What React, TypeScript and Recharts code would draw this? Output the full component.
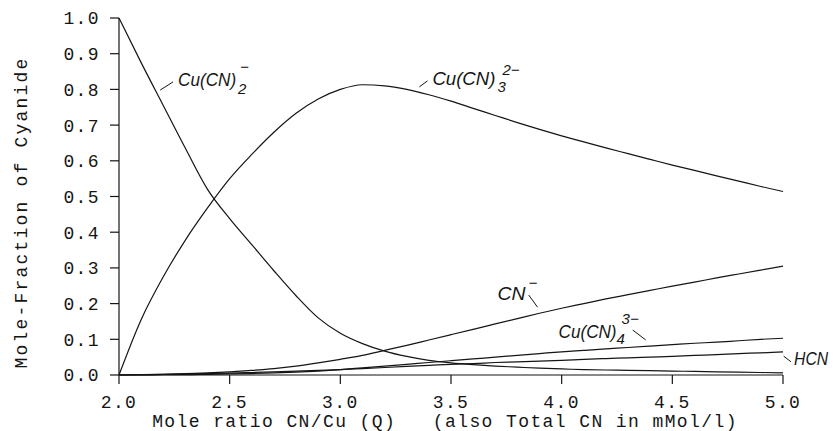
import {
  LineChart,
  Line,
  XAxis,
  YAxis,
  ReferenceLine,
  ReferenceDot,
} from 'recharts'

// mole ratio CN/Cu
const q = [
  2.0, 2.1, 2.2, 2.3, 2.4, 2.5, 2.6, 2.7, 2.8, 2.9, 3.0, 3.1, 3.2, 3.3, 3.4, 3.5,
  3.6, 3.7, 3.8, 3.9, 4.0, 4.1, 4.2, 4.3, 4.4, 4.5, 4.6, 4.7, 4.8, 4.9, 5.0,
]

// mole fraction of cyanide, per species
const cu2 = [
  1.0, 0.875, 0.755, 0.635, 0.52, 0.438, 0.365, 0.292, 0.222, 0.16, 0.117,
  0.088, 0.067, 0.052, 0.041, 0.034, 0.029, 0.025, 0.022, 0.019, 0.017, 0.015,
  0.014, 0.013, 0.012, 0.011, 0.01, 0.009, 0.008, 0.007, 0.006,
]
const cu3 = [
  0.0, 0.155, 0.275, 0.378, 0.468, 0.55, 0.618, 0.68, 0.733, 0.773, 0.8,
  0.813, 0.81, 0.8, 0.785, 0.767, 0.747, 0.727, 0.707, 0.688, 0.67, 0.653,
  0.636, 0.62, 0.604, 0.588, 0.573, 0.558, 0.543, 0.528, 0.514,
]
const cn = [
  0.0, 0.001, 0.002, 0.004, 0.006, 0.009, 0.013, 0.018, 0.025, 0.034, 0.044,
  0.055, 0.069, 0.083, 0.098, 0.113, 0.128, 0.143, 0.158, 0.173, 0.187, 0.2,
  0.213, 0.225, 0.237, 0.249, 0.26, 0.272, 0.283, 0.294, 0.305,
]
const cu4 = [
  0.0, 0.0, 0.001, 0.001, 0.002, 0.003, 0.004, 0.006, 0.008, 0.011, 0.015, 0.02,
  0.025, 0.03, 0.035, 0.04, 0.045, 0.05, 0.055, 0.06, 0.065, 0.069, 0.073,
  0.077, 0.081, 0.085, 0.089, 0.092, 0.096, 0.1, 0.103,
]
const hcn = [
  0.0, 0.001, 0.002, 0.003, 0.004, 0.005, 0.007, 0.009, 0.011, 0.013, 0.015,
  0.018, 0.021, 0.024, 0.027, 0.03, 0.032, 0.035, 0.037, 0.039, 0.041, 0.044,
  0.046, 0.048, 0.05, 0.052, 0.055, 0.057, 0.06, 0.062, 0.065,
]

const xTicks = [2.0, 2.5, 3.0, 3.5, 4.0, 4.5, 5.0]
const yTicks = [0, 0.1, 0.2, 0.3, 0.4, 0.5, 0.6, 0.7, 0.8, 0.9, 1.0]

const rows = q.map((x, i) => ({
  q: x,
  cu2: cu2[i],
  cu3: cu3[i],
  cn: cn[i],
  cu4: cu4[i],
  hcn: hcn[i],
}))

const INK = '#151515'
const MONO = '"Liberation Mono", "DejaVu Sans Mono", monospace'
const SANS = '"Liberation Sans", Arial, sans-serif'

// species labels: anchor is start of text baseline, in data units
const labels = [
  { x: 2.267, y: 0.81, main: 'Cu(CN)', w: 58, sub: '2', subDx: 60, subDy: 8, sup: '\u2212', supDx: 62, supDy: -14 },
  { x: 3.416, y: 0.812, main: 'Cu(CN)', w: 63, sub: '3', subDx: 65, subDy: 7, sup: '2\u2212', supDx: 70, supDy: -10 },
  { x: 3.71, y: 0.21, main: 'CN', w: 28, sup: '\u2212', supDx: 31, supDy: -12 },
  { x: 3.986, y: 0.104, main: 'Cu(CN)', w: 58, sub: '4', subDx: 58, subDy: 6, sup: '3\u2212', supDx: 63, supDy: -14 },
  { x: 5.05, y: 0.028, main: 'HCN', w: 34 },
]

const leaders = [
  [{ x: 2.186, y: 0.798 }, { x: 2.244, y: 0.821 }],
  [{ x: 3.357, y: 0.807 }, { x: 3.394, y: 0.824 }],
  [{ x: 3.851, y: 0.224 }, { x: 3.891, y: 0.19 }],
  [{ x: 4.321, y: 0.126 }, { x: 4.38, y: 0.098 }],
  [{ x: 5.003, y: 0.053 }, { x: 5.036, y: 0.037 }],
]

function SpeciesLabel(props: any) {
  const { viewBox, item } = props
  if (!viewBox) return null
  const { x, y } = viewBox
  return (
    <g fontFamily={SANS} fontStyle="italic" fill={INK}>
      <text x={x} y={y} fontSize={18} textLength={item.w} lengthAdjust="spacingAndGlyphs">
        {item.main}
      </text>
      {item.sub && (
        <text x={x + item.subDx} y={y + item.subDy} fontSize={15}>
          {item.sub}
        </text>
      )}
      {item.sup && (
        <text x={x + item.supDx} y={y + item.supDy} fontSize={15}>
          {item.sup}
        </text>
      )}
    </g>
  )
}

function XTick({ x, y, payload }: any) {
  return (
    <text x={x} y={y} dy="0.71em" textAnchor="middle" fontFamily={MONO} fontSize={18} letterSpacing={1.4} fill={INK}>
      {payload.value.toFixed(1)}
    </text>
  )
}

function YTick({ x, y, payload }: any) {
  return (
    <text x={x} y={y} dy="0.36em" textAnchor="end" fontFamily={MONO} fontSize={18} letterSpacing={1.4} fill={INK}>
      {payload.value.toFixed(1)}
    </text>
  )
}

function XTitle({ viewBox }: any) {
  const cx = viewBox.x + viewBox.width / 2 - 6
  return (
    <text x={cx} y={viewBox.y + 52} textAnchor="middle" fontFamily={MONO} fontSize={18} letterSpacing={1.4} fill={INK}>
      {'Mole ratio CN/Cu (Q)\u00a0\u00a0\u00a0(also Total CN in mMol/l)'}
    </text>
  )
}

function YTitle({ viewBox }: any) {
  const x = viewBox.x + 27
  const y = viewBox.y + viewBox.height / 2 + 16
  return (
    <text x={x} y={y} transform={`rotate(-90 ${x} ${y})`} textAnchor="middle" fontFamily={MONO} fontSize={18} letterSpacing={2.2} fill={INK}>
      Mole-Fraction of Cyanide
    </text>
  )
}

const series = ['cu2', 'cu3', 'cn', 'cu4', 'hcn']

export default function App() {
  return (
    <div style={{ position: 'absolute', left: 0, top: 0, width: 833, height: 431, background: '#fff' }}>
      <LineChart width={833} height={431} data={rows} margin={{ top: 18, right: 50, bottom: 0, left: 0 }}>
        <XAxis
          dataKey="q"
          type="number"
          domain={[2, 5]}
          ticks={xTicks}
          height={56}
          stroke={INK}
          strokeWidth={1.2}
          tickSize={9}
          tickMargin={11}
          tick={<XTick />}
          label={<XTitle />}
        />
        <YAxis
          type="number"
          domain={[0, 1]}
          ticks={yTicks}
          width={119}
          stroke={INK}
          strokeWidth={1.2}
          tickSize={9}
          tickMargin={10}
          tick={<YTick />}
          label={<YTitle />}
        />
        {series.map((key) => (
          <Line
            key={key}
            dataKey={key}
            type="monotone"
            stroke={INK}
            strokeWidth={1.2}
            dot={false}
            isAnimationActive={false}
          />
        ))}
        {leaders.map((seg, i) => (
          <ReferenceLine key={`lead-${i}`} segment={seg} stroke={INK} strokeWidth={1} ifOverflow="visible" />
        ))}
        {labels.map((item, i) => (
          <ReferenceDot
            key={`lab-${i}`}
            x={item.x}
            y={item.y}
            r={0}
            fill="none"
            stroke="none"
            ifOverflow="visible"
            label={<SpeciesLabel item={item} />}
          />
        ))}
      </LineChart>
    </div>
  )
}
